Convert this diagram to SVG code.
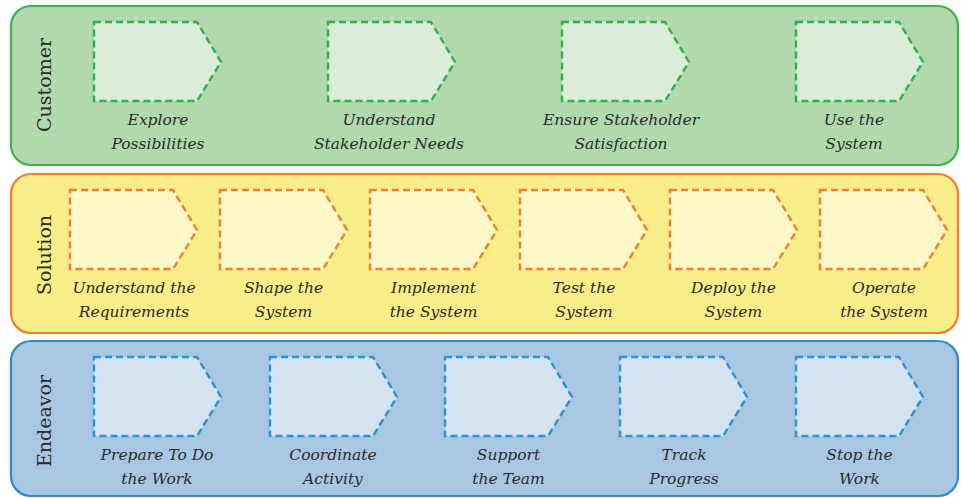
<svg xmlns="http://www.w3.org/2000/svg" width="961" height="498" viewBox="0 0 961 498">
<defs>
<style>
.band{stroke-width:2.2}
.cust{fill:#b2d9ae;stroke:#3cb44c}
.sol{fill:#f8ee89;stroke:#ee7e30}
.end{fill:#a9c7e3;stroke:#2a8dc9}
.pc{fill:#dbecd8;stroke:#2ab34b}
.ps{fill:#fcf8c8;stroke:#f08030}
.pe{fill:#d5e3f0;stroke:#2795cf}
.pent{stroke-width:2.4;stroke-dasharray:7 4}
.bl{font-family:"DejaVu Serif","Liberation Serif",serif;font-size:19px;fill:#2b2b2b;text-anchor:middle}
.lb{font-family:"DejaVu Serif","Liberation Serif",serif;font-style:italic;font-size:15.5px;fill:#2b2b2b;text-anchor:middle}
</style>
<path id="pg" d="M0,0 H103 L127,40 L103,79 H0 Z"/>
</defs>

<g id="band-customer">
<rect class="band cust" x="11" y="6" width="947" height="159" rx="20"/>
<text class="bl" transform="translate(51,85) rotate(-90)">Customer</text>
</g>
<g id="band-solution">
<rect class="band sol" x="11" y="174" width="947" height="159" rx="20"/>
<text class="bl" transform="translate(51,255) rotate(-90)">Solution</text>
</g>
<g id="band-endeavor">
<rect class="band end" x="11" y="341" width="947" height="155" rx="20"/>
<text class="bl" transform="translate(51,421) rotate(-90)">Endeavor</text>
</g>

<g id="connectors"></g>

<g id="n-explore"><use href="#pg" class="pent pc" x="94" y="22"/>
<text class="lb" x="158" y="124.5">Explore</text><text class="lb" x="158" y="148.5">Possibilities</text></g>
<g id="n-understand-needs"><use href="#pg" class="pent pc" x="328" y="22"/>
<text class="lb" x="389" y="124.5">Understand</text><text class="lb" x="389" y="148.5">Stakeholder Needs</text></g>
<g id="n-ensure"><use href="#pg" class="pent pc" x="562" y="22"/>
<text class="lb" x="621" y="124.5">Ensure Stakeholder</text><text class="lb" x="621" y="148.5">Satisfaction</text></g>
<g id="n-use"><use href="#pg" class="pent pc" x="796" y="22"/>
<text class="lb" x="854" y="124.5">Use the</text><text class="lb" x="854" y="148.5">System</text></g>

<g id="n-requirements"><use href="#pg" class="pent ps" x="70" y="190"/>
<text class="lb" x="134" y="293">Understand the</text><text class="lb" x="134" y="316.5">Requirements</text></g>
<g id="n-shape"><use href="#pg" class="pent ps" x="220" y="190"/>
<text class="lb" x="283.5" y="293">Shape the</text><text class="lb" x="283.5" y="316.5">System</text></g>
<g id="n-implement"><use href="#pg" class="pent ps" x="370" y="190"/>
<text class="lb" x="433.5" y="293">Implement</text><text class="lb" x="433.5" y="316.5">the System</text></g>
<g id="n-test"><use href="#pg" class="pent ps" x="520" y="190"/>
<text class="lb" x="584" y="293">Test the</text><text class="lb" x="584" y="316.5">System</text></g>
<g id="n-deploy"><use href="#pg" class="pent ps" x="670" y="190"/>
<text class="lb" x="733.5" y="293">Deploy the</text><text class="lb" x="733.5" y="316.5">System</text></g>
<g id="n-operate"><use href="#pg" class="pent ps" x="820" y="190"/>
<text class="lb" x="884" y="293">Operate</text><text class="lb" x="884" y="316.5">the System</text></g>

<g id="n-prepare"><use href="#pg" class="pent pe" x="94" y="357"/>
<text class="lb" x="157" y="460">Prepare To Do</text><text class="lb" x="157" y="484">the Work</text></g>
<g id="n-coordinate"><use href="#pg" class="pent pe" x="270" y="357"/>
<text class="lb" x="333" y="460">Coordinate</text><text class="lb" x="333" y="484">Activity</text></g>
<g id="n-support"><use href="#pg" class="pent pe" x="445" y="357"/>
<text class="lb" x="508.5" y="460">Support</text><text class="lb" x="508.5" y="484">the Team</text></g>
<g id="n-track"><use href="#pg" class="pent pe" x="620" y="357"/>
<text class="lb" x="684" y="460">Track</text><text class="lb" x="684" y="484">Progress</text></g>
<g id="n-stop"><use href="#pg" class="pent pe" x="796" y="357"/>
<text class="lb" x="859.5" y="460">Stop the</text><text class="lb" x="859.5" y="484">Work</text></g>
</svg>
